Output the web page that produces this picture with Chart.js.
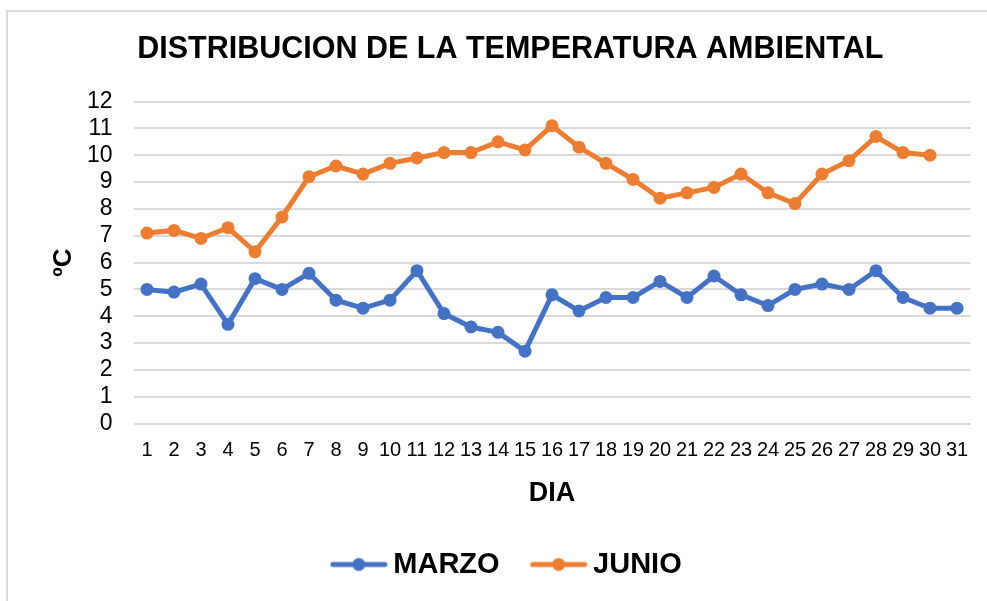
<!DOCTYPE html>
<html>
<head>
<meta charset="utf-8">
<title>Distribucion de la temperatura ambiental</title>
<script src="https://cdn.jsdelivr.net/npm/chart.js@4.4.1/dist/chart.umd.min.js"></script>
<style>
  html, body { margin: 0; padding: 0; background: #fff; }
  #wrap { position: relative; width: 987px; height: 601px; overflow: hidden; }
  #frame { position: absolute; left: 6px; top: 10px; width: 1000px; height: 620px;
           border-top: 2px solid #d9d9d9; border-left: 2px solid #d9d9d9; }
  #mycanvas { position: absolute; left: 0; top: 0; }
</style>
</head>
<body>
<div id="wrap">
  <div id="frame"></div>
  <canvas id="mycanvas" width="987" height="601"></canvas>
</div>
<script>
// days of the month
var dias = ['1','2','3','4','5','6','7','8','9','10','11','12','13','14','15','16',
            '17','18','19','20','21','22','23','24','25','26','27','28','29','30','31'];
// march temperatures (ºC)
var marzo = [5.0, 4.9, 5.2, 3.7, 5.4, 5.0, 5.6, 4.6, 4.3, 4.6, 5.7, 4.1, 3.6, 3.4, 2.7, 4.8,
             4.2, 4.7, 4.7, 5.3, 4.7, 5.5, 4.8, 4.4, 5.0, 5.2, 5.0, 5.7, 4.7, 4.3, 4.3];
// june temperatures (ºC), june has no day 31
var junio = [7.1, 7.2, 6.9, 7.3, 6.4, 7.7, 9.2, 9.6, 9.3, 9.7, 9.9, 10.1, 10.1, 10.5, 10.2, 11.1,
             10.3, 9.7, 9.1, 8.4, 8.6, 8.8, 9.3, 8.6, 8.2, 9.3, 9.8, 10.7, 10.1, 10.0, null];
var series = ['MARZO', 'JUNIO'];
var colores = ['#4472C4', '#ED7D31'];

var FONT = '"Liberation Sans", Arial, sans-serif';

// little line+dot picture used as the legend marker
function marker(color) {
  var c = document.createElement('canvas');
  c.width = 58; c.height = 16;
  var g = c.getContext('2d');
  g.strokeStyle = color;
  g.lineWidth = 5;
  g.lineCap = 'round';
  g.beginPath(); g.moveTo(3, 8); g.lineTo(55, 8); g.stroke();
  g.fillStyle = color;
  g.beginPath(); g.arc(29, 8, 6.5, 0, Math.PI * 2); g.fill();
  return c;
}
var markers = colores.map(marker);

var chartdata = {
  labels: dias,
  datasets: [
    {
      label: series[0],
      data: marzo,
      borderColor: colores[0],
      backgroundColor: colores[0],
      borderWidth: 5,
      pointRadius: 6.5,
      pointHoverRadius: 6.5,
      pointBorderWidth: 0,
      tension: 0
    },
    {
      label: series[1],
      data: junio,
      borderColor: colores[1],
      backgroundColor: colores[1],
      borderWidth: 5,
      pointRadius: 6.5,
      pointHoverRadius: 6.5,
      pointBorderWidth: 0,
      tension: 0
    }
  ]
};

var ctx = document.getElementById('mycanvas');

var lineGraph = new Chart(ctx, {
  type: 'line',
  data: chartdata,
  options: {
    responsive: false,
    animation: false,
    layout: { padding: { left: 50, right: 16.5, top: 0, bottom: 12 } },
    plugins: {
      title: {
        display: true,
        text: 'DISTRIBUCION DE LA TEMPERATURA AMBIENTAL',
        color: '#000',
        font: { family: FONT, size: 30.5, weight: 'bold' },
        padding: { top: 31, bottom: 34 }
      },
      legend: {
        position: 'bottom',
        labels: {
          color: '#000',
          font: { family: FONT, size: 29, weight: 'bold' },
          usePointStyle: true,
          pointStyleWidth: 40,
          padding: 39,
          generateLabels: function(chart) {
            var items = Chart.defaults.plugins.legend.labels.generateLabels(chart);
            items.forEach(function(it, i) { it.pointStyle = markers[i]; });
            return items;
          }
        }
      },
      tooltip: { enabled: false }
    },
    scales: {
      x: {
        offset: true,
        grid: { display: false, drawTicks: false },
        border: { display: false },
        ticks: {
          color: '#000',
          font: { family: FONT, size: 20 },
          padding: 15,
          maxRotation: 0,
          autoSkip: false
        },
        title: {
          display: true,
          text: 'DIA',
          color: '#000',
          font: { family: FONT, size: 27, weight: 'bold' },
          padding: { top: 0, bottom: 1 }
        }
      },
      y: {
        min: 0,
        max: 12,
        grid: { color: '#d9d9d9', lineWidth: 2, drawTicks: false },
        border: { display: false },
        ticks: {
          stepSize: 1,
          autoSkip: false,
          color: '#000',
          font: { family: FONT, size: 23 },
          padding: 21
        },
        title: {
          display: true,
          text: 'ºC',
          color: '#000',
          font: { family: FONT, size: 26, weight: 'bold' },
          padding: { top: -2, bottom: 0 }
        },
        afterFit: function(scale) { scale.width = 83.5; }
      }
    }
  }
});
</script>
</body>
</html>
